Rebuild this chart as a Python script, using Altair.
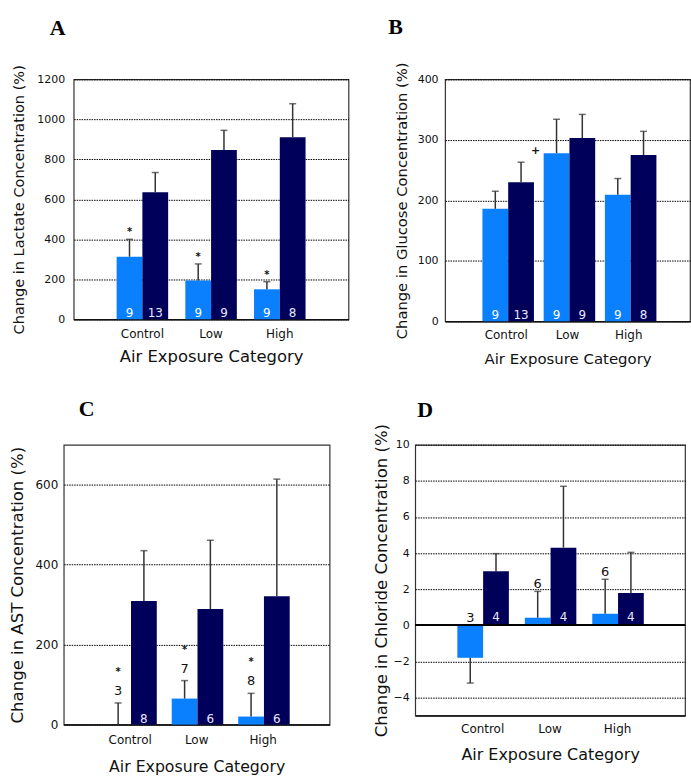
import altair as alt
import pandas as pd

categories = ["Control", "Low", "High"]
series = ["Group 1", "Group 2"]
bar_colors = ["#0a80ff", "#00005a"]

# Panel A - lactate
lac_mean_1 = [313, 194, 150]
lac_se_1 = [87, 83, 38]
lac_mean_2 = [635, 847, 911]
lac_se_2 = [99, 98, 167]
lac_n_1 = [9, 9, 9]
lac_n_2 = [13, 9, 8]
lac_mark_1 = ["*", "*", "*"]

# Panel B - glucose
glu_mean_1 = [186, 278, 209]
glu_se_1 = [29, 56, 27]
glu_mean_2 = [230, 303, 275]
glu_se_2 = [33, 39, 39]
glu_n_1 = [9, 9, 9]
glu_n_2 = [13, 9, 8]
glu_mark_1 = ["", "+", ""]

# Panel C - AST
ast_mean_1 = [0, 65, 20]
ast_se_1 = [54, 45, 58]
ast_mean_2 = [309, 289, 321]
ast_se_2 = [126, 172, 293]
ast_n_1 = [3, 7, 8]
ast_n_2 = [8, 6, 6]
ast_mark_1 = ["*", "*", "*"]

# Panel D - chloride
chl_mean_1 = [-1.8, 0.42, 0.64]
chl_se_1 = [1.4, 1.46, 1.91]
chl_mean_2 = [2.99, 4.30, 1.79]
chl_se_2 = [0.98, 3.40, 2.25]
chl_n_1 = [3, 6, 6]
chl_n_2 = [4, 4, 4]
chl_mark_1 = ["", "", ""]

FONT = "DejaVu Sans"


def build_df(m1, s1, m2, s2, n1, n2, mk1):
    rows = []
    for grp, means, ses, ns, marks in (
        (series[0], m1, s1, n1, mk1),
        (series[1], m2, s2, n2, [""] * 3),
    ):
        for c, m, e, n, mk in zip(categories, means, ses, ns, marks):
            end = m + e if m >= 0 else m - e
            rows.append(dict(cat=c, grp=grp, mean=m, end=end, n=str(n),
                             mark=mk, base=0, anchor=max(end, 0)))
    return pd.DataFrame(rows)


def panel(df, letter, ytitle, ydomain, yticks, w, h, *, letter_dx, letter_offset,
          ytitle_size, ytitle_x, ylabel_pad, ylabel_size, xtitle_size, xtitle_y,
          xlabel_pad, n1_inside, n_above_dy, mark_field, mark_dy, mark_dx,
          mark_size, n_inside_dy, zero_line=False, pi=0.25, po=0.625):
    xenc = alt.X("cat:N", sort=categories,
                 scale=alt.Scale(paddingInner=pi, paddingOuter=po),
                 axis=alt.Axis(title="Air Exposure Category", labelAngle=0,
                               labelFont=FONT, labelFontSize=12, labelColor="#111",
                               titleFont=FONT, titleFontSize=xtitle_size,
                               titleFontWeight="normal", titleColor="#111",
                               titleY=xtitle_y, tickSize=0, labelPadding=xlabel_pad,
                               domainColor="#111", domainWidth=1.5))
    xo = alt.XOffset("grp:N", sort=series,
                     scale=alt.Scale(paddingInner=0, paddingOuter=0))
    yaxis = alt.Axis(title=ytitle, values=yticks, format="d", labelFont=FONT,
                     labelFontSize=ylabel_size, labelColor="#111",
                     titleFont=FONT, titleFontSize=ytitle_size,
                     titleFontWeight="normal", titleColor="#111",
                     titleX=ytitle_x, tickSize=0, labelPadding=ylabel_pad,
                     domain=False, grid=True, gridColor="#000",
                     gridDash=[1.5, 1], gridWidth=1, gridOpacity=1)
    yscale = alt.Scale(domain=ydomain, nice=False, zero=False)

    def Y(field):
        return alt.Y(f"{field}:Q", scale=yscale, axis=yaxis)

    base = alt.Chart(df).encode(x=xenc, xOffset=xo)
    bars = base.mark_bar().encode(
        y=Y("mean"), y2=alt.Y2("base:Q"),
        color=alt.Color("grp:N", sort=series,
                        scale=alt.Scale(domain=series, range=bar_colors),
                        legend=None))
    err = base.mark_rule(color="#333", strokeWidth=1.5).encode(
        y=Y("mean"), y2=alt.Y2("end:Q"))
    cap = base.mark_tick(color="#333", size=7, thickness=1.5,
                         orient="horizontal").encode(y=Y("end"))
    layers = [bars, err, cap]
    if zero_line:
        layers.append(alt.Chart(df).mark_rule(color="#000", strokeWidth=1.5)
                      .encode(y=alt.Y("base:Q", scale=yscale, axis=yaxis)))
    n_in2 = base.transform_filter(alt.datum.grp == series[1]).mark_text(
        font=FONT, fontSize=12, baseline="alphabetic", dy=n_inside_dy,
        color="#e8e8ff").encode(y=Y("base"), text="n:N")
    layers.append(n_in2)
    if n1_inside:
        n_in1 = base.transform_filter(alt.datum.grp == series[0]).mark_text(
            font=FONT, fontSize=12, baseline="alphabetic", dy=n_inside_dy,
            color="#ffffff").encode(y=Y("base"), text="n:N")
        layers.append(n_in1)
    else:
        n_out = base.transform_filter(alt.datum.grp == series[0]).mark_text(
            font=FONT, fontSize=13, baseline="alphabetic", dy=n_above_dy,
            color="#111").encode(y=Y("anchor"), text="n:N")
        layers.append(n_out)
    marks = base.transform_filter(alt.datum.mark != "").mark_text(
        font=FONT, fontSize=mark_size, baseline="alphabetic", dy=mark_dy,
        dx=mark_dx, color="#111", fontWeight="bold").encode(
        y=Y(mark_field), text="mark:N")
    layers.append(marks)
    return alt.layer(*layers).properties(
        width=w, height=h,
        title=alt.TitleParams(text=letter, anchor="start", frame="group",
                              dx=letter_dx, offset=letter_offset,
                              font="Liberation Serif", fontSize=22,
                              fontWeight="bold", color="#000"))


dfA = build_df(lac_mean_1, lac_se_1, lac_mean_2, lac_se_2, lac_n_1, lac_n_2, lac_mark_1)
dfB = build_df(glu_mean_1, glu_se_1, glu_mean_2, glu_se_2, glu_n_1, glu_n_2, glu_mark_1)
dfC = build_df(ast_mean_1, ast_se_1, ast_mean_2, ast_se_2, ast_n_1, ast_n_2, ast_mark_1)
dfD = build_df(chl_mean_1, chl_se_1, chl_mean_2, chl_se_2, chl_n_1, chl_n_2, chl_mark_1)

A = panel(dfA, "A", "Change in Lactate Concentration (%)", [0, 1200],
          [0, 200, 400, 600, 800, 1000, 1200], 276, 241,
          letter_dx=-24, letter_offset=25, ytitle_size=14.6, ytitle_x=-47,
          ylabel_pad=9, ylabel_size=11, xtitle_size=16.5, xtitle_y=29,
          xlabel_pad=9, n1_inside=True, n_above_dy=0, mark_field="end",
          mark_dy=-4, mark_dx=0, mark_size=10, n_inside_dy=-2)
B = panel(dfB, "B", "Change in Glucose Concentration (%)", [0, 400],
          [0, 100, 200, 300, 400], 246, 243,
          letter_dx=-57, letter_offset=23, ytitle_size=14.8, ytitle_x=-36,
          ylabel_pad=7, ylabel_size=11, xtitle_size=15, xtitle_y=30,
          xlabel_pad=8, n1_inside=True, n_above_dy=0, mark_field="mean",
          mark_dy=1, mark_dx=-21, mark_size=11, n_inside_dy=-2, pi=0.22, po=0.61)
C = panel(dfC, "C", "Change in AST Concentration (%)", [0, 700],
          [0, 200, 400, 600], 267, 281,
          letter_dx=15, letter_offset=24, ytitle_size=16.6, ytitle_x=-38,
          ylabel_pad=6, ylabel_size=12, xtitle_size=15.8, xtitle_y=35,
          xlabel_pad=10, n1_inside=False, n_above_dy=-8, mark_field="anchor",
          mark_dy=-28, mark_dx=0, mark_size=10, n_inside_dy=-2)
D = panel(dfD, "D", "Change in Chloride Concentration (%)", [-5, 10],
          [-4, -2, 0, 2, 4, 6, 8, 10], 271, 272,
          letter_dx=2, letter_offset=1, ytitle_size=16.6, ytitle_x=-26,
          ylabel_pad=6, ylabel_size=11, xtitle_size=16, xtitle_y=31,
          xlabel_pad=8, n1_inside=False, n_above_dy=-3, mark_field="anchor",
          mark_dy=-20, mark_dx=0, mark_size=10, n_inside_dy=-4, zero_line=True)

# invisible 1px spacer so the first row can sit right of the second row
spacer = alt.Chart(pd.DataFrame({"v": [0]})).mark_point(
    opacity=0, size=0).encode(x=alt.value(0), y=alt.value(0)).properties(
    width=1, height=1, view=alt.ViewBackground(stroke="transparent"))

top = alt.hconcat(spacer, alt.hconcat(A, B, spacing=38), spacing=-55)
bottom = alt.hconcat(C, D, spacing=42)
chart = alt.vconcat(top, bottom, spacing=30).properties(
    padding={"left": 9, "top": 13, "right": 0, "bottom": 0},
    background="white",
).configure_view(stroke="#333", strokeWidth=1.2)

chart.save("out.html", embed_options={"renderer": "svg", "actions": False})
